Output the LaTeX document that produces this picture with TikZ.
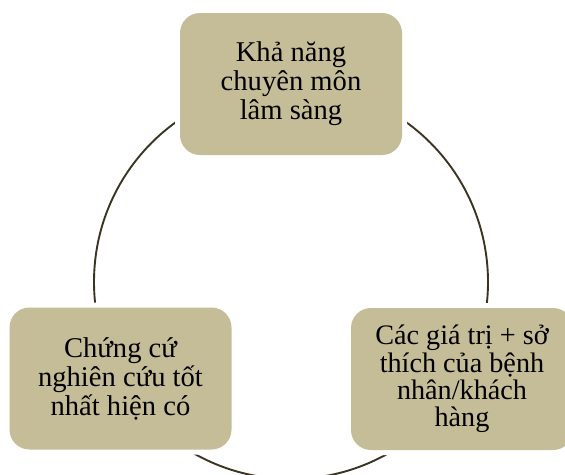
\documentclass[tikz,border=0pt]{standalone}
\usepackage{fontspec}
\setmainfont{Liberation Serif}
\definecolor{boxtan}{HTML}{C4BD97}
\definecolor{ringline}{HTML}{3A3522}
\begin{document}
\begin{tikzpicture}[x=1pt,y=-1pt,
  ebpbox/.style={rounded corners=20pt, fill=boxtan, minimum width=222pt,
    minimum height=142pt, align=center, inner sep=0pt, text=black,
    font=\fontsize{28.6}{29}\selectfont,
    preaction={draw=white, line width=10pt}},
]
\useasboundingbox (0,0) rectangle (565,474);
% the cycle linking the three components
\coordinate (centre) at (291,282);
\draw[ringline, line width=1.9pt] (centre) circle[radius=197pt];
% the three components
\node[ebpbox] (clin) at (291,84) {Khả năng\\chuyên môn\\lâm sàng};
\node[ebpbox] (evid) at (120.5,378.5) {Chứng cứ\\nghiên cứu tốt\\nhất hiện có};
\node[ebpbox, font=\fontsize{28.2}{27.3}\selectfont] (pref) at (462,379)
  {Các giá trị + sở\\thích của bệnh\\nhân/khách\\hàng};
\end{tikzpicture}
\end{document}
